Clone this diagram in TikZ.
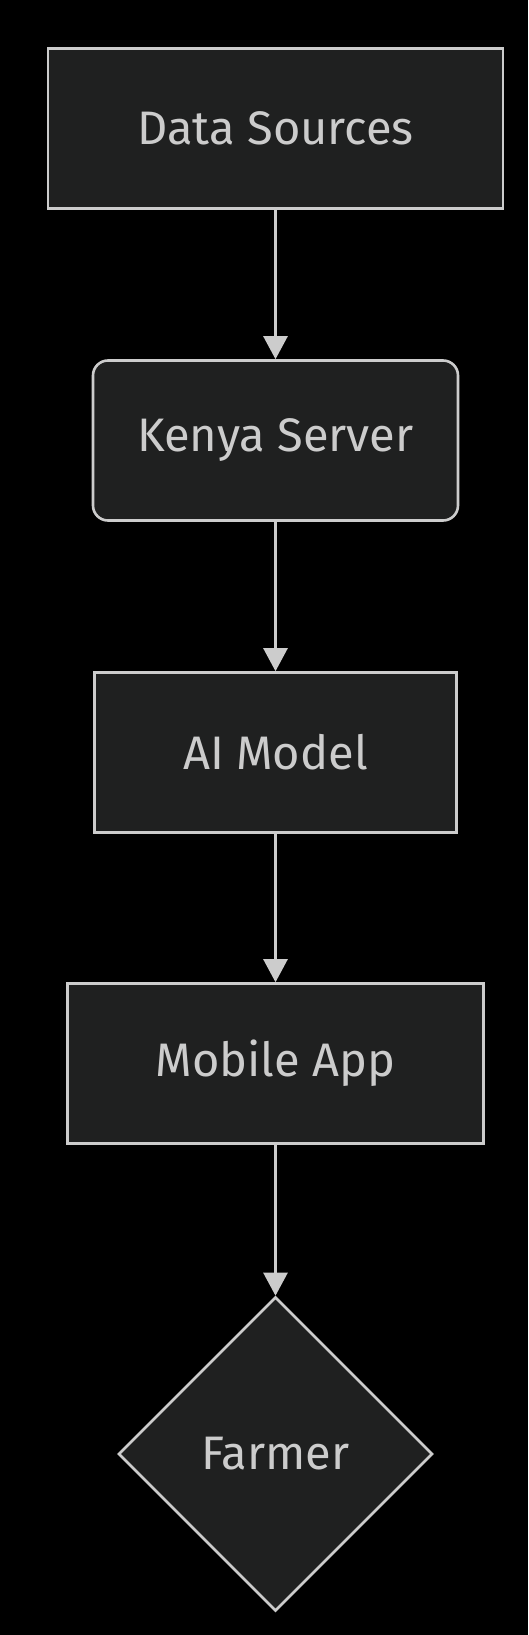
\documentclass[tikz,border=0pt]{standalone}
\usepackage{fontspec}
\setmainfont{Fira Sans}
\usetikzlibrary{shapes.geometric,arrows.meta}
\definecolor{nodefill}{HTML}{1F2020}
\definecolor{edgecol}{HTML}{CCCCCC}
\definecolor{txtcol}{HTML}{CCCCCC}
\tikzset{
  base/.style={draw=edgecol, fill=nodefill, line width=2.6pt, text=txtcol,
    font=\fontsize{47}{52}\selectfont, inner sep=0pt},
  rectbox/.style={base, rectangle, minimum height=160pt},
  roundbox/.style={base, rectangle, rounded corners=15pt, minimum height=160pt},
  diamondbox/.style={base, diamond, minimum width=314pt, minimum height=314pt},
  flow/.style={draw=edgecol, line width=2.6pt, -{Triangle[length=23pt,width=24pt]}}
}
\begin{document}
\begin{tikzpicture}[x=1pt,y=-1pt]
  \fill[black] (0,0) rectangle (528,1635);
  \useasboundingbox (0,0) rectangle (528,1635);
  \node[rectbox, minimum width=455pt] (ds) at (275.5,128.5) {Data Sources};
  \node[roundbox, minimum width=365pt] (ks) at (275.5,440.5) {Kenya Server};
  \node[rectbox, minimum width=362pt] (ai) at (275.5,752.5) {AI Model};
  \node[rectbox, minimum width=416pt] (ma) at (275.5,1063.5) {Mobile App};
  \node[diamondbox] (fa) at (275.5,1454) {Farmer};
  \draw[flow] (ds) -- (ks);
  \draw[flow] (ks) -- (ai);
  \draw[flow] (ai) -- (ma);
  \draw[flow] (ma) -- (fa);
\end{tikzpicture}
\end{document}
